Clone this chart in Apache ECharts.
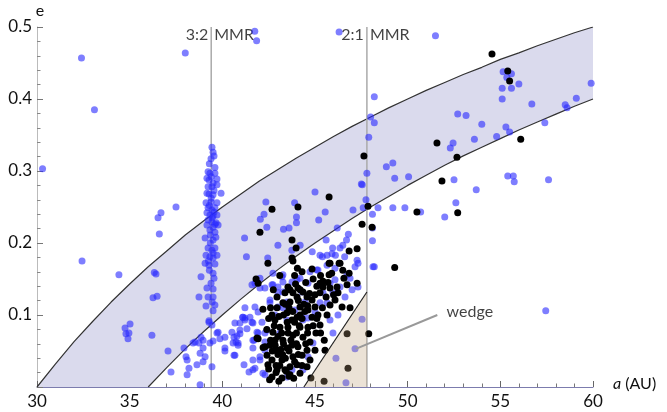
<!DOCTYPE html>
<html>
<head>
<meta charset="utf-8">
<title>a - e plane</title>
<script src="https://cdn.jsdelivr.net/npm/echarts@6/dist/echarts.min.js"></script>
<style>
  html, body { margin: 0; padding: 0; background: #fff; }
  #main { width: 667px; height: 412px; }
</style>
</head>
<body>
<div id="main"></div>
<script>
// perihelion edges of the shaded band (q = 30 AU and q = 36 AU)
const curveA = [30, 31, 32, 33, 34, 35, 36, 37, 38, 39, 40, 41, 42, 43, 44, 45, 46, 47, 48, 49, 50, 51, 52, 53, 54, 55, 56, 57, 58, 59, 60];
const upperE = [0, 0.032, 0.063, 0.091, 0.118, 0.143, 0.167, 0.189, 0.211, 0.231, 0.250, 0.268, 0.286, 0.302, 0.318, 0.333, 0.348, 0.362, 0.375, 0.388, 0.400, 0.412, 0.423, 0.434, 0.444, 0.455, 0.464, 0.474, 0.483, 0.492, 0.500];
const lowerA = [36, 37, 38, 39, 40, 41, 42, 43, 44, 45, 46, 47, 48, 49, 50, 51, 52, 53, 54, 55, 56, 57, 58, 59, 60];
const lowerE = [0, 0.027, 0.053, 0.077, 0.100, 0.122, 0.143, 0.163, 0.182, 0.200, 0.217, 0.234, 0.250, 0.265, 0.280, 0.294, 0.308, 0.321, 0.333, 0.345, 0.357, 0.368, 0.379, 0.390, 0.400];

// resonances
const mmrA = [39.4, 47.8];
const mmrNames = ['3:2', '2:1'];

// wedge triangle (a, e)
const wedgeA = [44.4, 47.8, 47.8];
const wedgeE = [0, 0, 0.132];
const wedgeText = [52.1, 0.105];
const wedgeArrow = [[51.6, 0.1], [47.2, 0.053]];

// blue objects
const bluePts = [
  [30.3, 0.303], [32.4, 0.457], [33.1, 0.385], [38.0, 0.464], [41.75, 0.494], [41.85, 0.481], [46.3, 0.493], [51.5, 0.488],
  [48.2, 0.403], [48.0, 0.375], [48.2, 0.367], [47.9, 0.347],
  [55.15, 0.438], [55.6, 0.435], [55.35, 0.43], [56.0, 0.421], [55.1, 0.415], [55.6, 0.415], [55.1, 0.40], [56.7, 0.393],
  [59.9, 0.422], [59.1, 0.401], [58.5, 0.392], [58.6, 0.388], [52.7, 0.379], [53.15, 0.377], [54.0, 0.365], [55.3, 0.361],
  [55.5, 0.354], [57.4, 0.367], [54.8, 0.348], [53.6, 0.344], [52.45, 0.339], [52.3, 0.332], [52.5, 0.288], [55.4, 0.293],
  [55.7, 0.293], [55.75, 0.285], [57.6, 0.288], [53.7, 0.274], [52.6, 0.256], [52.0, 0.236], [50.7, 0.243], [57.45, 0.106],
  [48.85, 0.306], [49.2, 0.311], [49.3, 0.290], [50.05, 0.292], [47.5, 0.282], [47.8, 0.297], [47.75, 0.26], [48.4, 0.249],
  [49.2, 0.249], [49.85, 0.249], [47.05, 0.246], [48.1, 0.24], [48.1, 0.203], [45.0, 0.271], [42.35, 0.257], [43.9, 0.256],
  [45.55, 0.243], [42.25, 0.24], [42.05, 0.233], [44.0, 0.236], [44.0, 0.228], [42.4, 0.222], [43.3, 0.219], [43.6, 0.221],
  [45.2, 0.232], [41.2, 0.207], [43.0, 0.197], [41.3, 0.181], [46.2, 0.221], [46.8, 0.212], [46.7, 0.204], [46.5, 0.197],
  [45.95, 0.193], [45.6, 0.204], [45.65, 0.183], [45.4, 0.181], [44.85, 0.188], [46.1, 0.183], [46.35, 0.193], [46.6, 0.181],
  [47.6, 0.249], [47.55, 0.281], [48.1, 0.221], [48.2, 0.167], [42.45, 0.179], [43.75, 0.19], [44.2, 0.197],
  // 3:2 column
  [39.44, 0.333], [39.5, 0.326], [39.55, 0.321], [39.39, 0.317], [39.23, 0.299], [39.33, 0.297], [39.6, 0.297], [39.17, 0.29],
  [39.71, 0.289], [39.28, 0.2875], [39.5, 0.283], [39.23, 0.278], [39.44, 0.278], [39.71, 0.281], [39.17, 0.269], [39.28, 0.268],
  [39.93, 0.269], [39.5, 0.267], [39.12, 0.256], [39.39, 0.257], [39.71, 0.256], [39.23, 0.249], [39.44, 0.246], [39.6, 0.249],
  [39.17, 0.242], [39.33, 0.239], [39.5, 0.2375], [39.71, 0.239], [39.23, 0.232], [39.44, 0.229], [39.66, 0.228], [39.17, 0.225],
  [39.5, 0.222], [39.77, 0.225], [39.33, 0.218], [39.6, 0.215], [39.07, 0.207], [39.5, 0.204], [39.23, 0.193], [39.44, 0.19],
  [39.6, 0.193], [39.12, 0.183], [39.33, 0.181], [39.5, 0.179], [39.71, 0.183], [39.07, 0.172], [39.28, 0.169], [39.6, 0.171],
  [38.85, 0.153], [39.5, 0.158], [39.55, 0.151], [39.39, 0.144], [39.17, 0.1375], [39.5, 0.136], [38.74, 0.125], [39.23, 0.125],
  [39.5, 0.125], [39.12, 0.1125], [39.6, 0.114], [39.5, 0.106], [39.28, 0.09], [39.44, 0.086], [39.71, 0.075], [39.87, 0.067],
  [38.96, 0.065], [39.5, 0.064], [38.53, 0.0625], [38.42, 0.061], [38.74, 0.061], [38.96, 0.054], [39.33, 0.061], [37.93, 0.054],
  [38.8, 0.047], [39.07, 0.042], [38.96, 0.035], [38.1, 0.0375], [38.63, 0.031], [39.44, 0.028], [38.2, 0.026], [38.1, 0.017],
  [38.8, 0.003], [37.07, 0.05], [37.23, 0.021], [38.04, 0.042], [38.85, 0.069], [39.28, 0.092], [39.77, 0.076], [40.14, 0.05],
  [39.3, 0.31], [39.6, 0.305], [39.4, 0.262], [39.55, 0.243], [39.35, 0.2], [39.65, 0.208], [39.3, 0.162], [39.45, 0.118],
  [39.4, 0.292], [39.55, 0.273], [39.3, 0.252], [39.45, 0.235], [39.6, 0.226], [39.35, 0.211], [39.5, 0.186], [39.25, 0.175],
  // left part of the band
  [36.33, 0.159], [36.42, 0.157], [36.26, 0.124], [36.48, 0.126], [34.42, 0.156], [32.43, 0.175], [34.75, 0.082], [35.02, 0.0875],
  [34.8, 0.074], [34.96, 0.075], [34.91, 0.067], [36.2, 0.072], [36.53, 0.235], [36.69, 0.242], [36.6, 0.2125], [37.5, 0.25],
  // around the cluster
  [40.68, 0.089], [40.95, 0.074], [40.74, 0.0625], [40.85, 0.058], [40.63, 0.044], [41.1, 0.097], [41.22, 0.096], [41.33, 0.081],
  [41.6, 0.09], [41.93, 0.075], [41.65, 0.065], [41.44, 0.021], [41.65, 0.0375], [41.17, 0.031], [40.63, 0.069], [40.85, 0.061],
  [41.76, 0.144], [42.03, 0.1375], [42.73, 0.142], [43.27, 0.146], [41.93, 0.104], [41.65, 0.089], [42.14, 0.09], [41.87, 0.076],
  [42.3, 0.051], [42.03, 0.0375], [41.76, 0.026], [42.3, 0.017], [41.71, 0.065], [42.57, 0.121], [43.0, 0.111], [43.27, 0.11],
  [44.19, 0.151], [45.1, 0.1625], [45.27, 0.183], [45.92, 0.185], [47.32, 0.172], [47.32, 0.139], [46.89, 0.151], [46.24, 0.1],
  [43.76, 0.146], [43.27, 0.156], [44.62, 0.144], [43.0, 0.131], [44.35, 0.093], [42.3, 0.075],
  [40.14, 0.054], [40.58, 0.061], [40.79, 0.071], [40.95, 0.079], [41.22, 0.093], [41.49, 0.097], [41.11, 0.097], [40.68, 0.044],
  [41.65, 0.054], [42.03, 0.042], [41.65, 0.024], [42.19, 0.019], [41.6, 0.142], [42.03, 0.151], [42.3, 0.1375], [42.68, 0.142],
  [42.73, 0.158], [43.0, 0.139], [43.22, 0.153], [43.27, 0.132], [43.49, 0.118], [42.57, 0.117], [42.84, 0.1], [42.41, 0.079],
  [42.3, 0.0625], [41.76, 0.111], [41.22, 0.11], [40.95, 0.089], [40.52, 0.076], [40.14, 0.069], [43.11, 0.075], [43.49, 0.093],
  [43.92, 0.107], [44.3, 0.1], [44.62, 0.096], [44.46, 0.118], [45.0, 0.104], [45.27, 0.117], [45.43, 0.131], [45.81, 0.144],
  [46.08, 0.149], [45.97, 0.131], [46.35, 0.139], [46.62, 0.125], [47.0, 0.135], [46.73, 0.156], [47.16, 0.167], [47.27, 0.176],
  [48.13, 0.167], [45.65, 0.117], [45.97, 0.075], [45.81, 0.093], [44.89, 0.061], [44.62, 0.042], [43.76, 0.024], [43.49, 0.014],
  [44.35, 0.024], [45.65, 0.169], [46.08, 0.165], [44.73, 0.16], [45.16, 0.1625], [44.03, 0.149], [44.3, 0.132],
  // inside the wedge
  [46.13, 0.04], [47.54, 0.094], [47.16, 0.053], [46.67, 0.006]
];

// black objects
const blackPts = [
  [54.55, 0.4625], [55.4, 0.439], [55.5, 0.425], [56.1, 0.344], [51.58, 0.339], [52.66, 0.319], [51.85, 0.286], [52.7, 0.242],
  [42.03, 0.215], [42.68, 0.247], [44.08, 0.25], [45.76, 0.264], [47.64, 0.321], [47.86, 0.251], [47.54, 0.226], [48.08, 0.222],
  [50.5, 0.243], [43.76, 0.204], [43.98, 0.193], [43.76, 0.179], [42.46, 0.172], [45.81, 0.172], [46.35, 0.172], [46.84, 0.189],
  [47.27, 0.192], [49.3, 0.166], [47.9, 0.074], [41.82, 0.15], [41.93, 0.144], [41.93, 0.067],
  // in the wedge
  [46.73, 0.074], [46.78, 0.026], [45.49, 0.008], [44.78, 0.0125],
  // main cluster
  [43.81, 0.175], [44.84, 0.164], [45.76, 0.172], [46.3, 0.172], [46.84, 0.158], [47.27, 0.144], [46.56, 0.151], [46.73, 0.142],
  [46.24, 0.131], [46.08, 0.121], [45.81, 0.114], [46.46, 0.111], [46.89, 0.11], [45.65, 0.1], [45.27, 0.086], [45.05, 0.075],
  [45.16, 0.1], [43.54, 0.139], [44.08, 0.1375], [43.81, 0.131], [43.38, 0.131], [44.35, 0.132], [42.19, 0.108], [42.84, 0.093],
  [42.68, 0.1], [41.87, 0.068], [42.41, 0.044], [42.46, 0.031], [42.68, 0.014], [43.22, 0.0125], [43.65, 0.017], [44.19, 0.019],
  [44.57, 0.028], [44.73, 0.0375], [45.0, 0.051], [44.03, 0.125], [44.19, 0.111], [44.03, 0.097], [43.54, 0.083], [43.27, 0.065],
  [42.95, 0.051], [43.22, 0.0375], [43.65, 0.028], [43.81, 0.042], [44.08, 0.056], [44.35, 0.069], [44.62, 0.083], [44.84, 0.097],
  [45.0, 0.111], [44.62, 0.107], [45.27, 0.131], [45.43, 0.139], [45.81, 0.1375], [45.76, 0.156], [45.43, 0.147], [46.19, 0.139],
  [45.27, 0.144], [45.0, 0.128], [44.57, 0.125], [44.84, 0.121], [43.65, 0.118], [43.27, 0.117], [42.95, 0.11], [44.19, 0.1],
  [43.76, 0.093], [43.49, 0.103], [43.11, 0.083], [42.73, 0.076], [42.57, 0.058], [42.3, 0.056], [42.84, 0.065], [43.49, 0.054],
  [43.81, 0.072], [44.19, 0.083], [42.68, 0.0375], [42.95, 0.024], [43.38, 0.024], [44.03, 0.031], [44.3, 0.044], [44.57, 0.051],
  [44.73, 0.0625], [45.54, 0.051],
  [42.9, 0.02], [43.1, 0.03], [43.4, 0.04], [43.0, 0.045], [43.6, 0.05], [43.9, 0.035], [44.1, 0.045], [43.3, 0.06],
  [43.7, 0.065], [44.0, 0.075], [43.2, 0.075], [43.5, 0.09], [43.9, 0.09], [44.3, 0.095], [43.3, 0.1], [43.8, 0.105],
  [44.4, 0.115], [43.0, 0.07], [42.8, 0.085], [42.6, 0.065], [42.7, 0.05], [42.9, 0.03], [43.6, 0.015], [44.3, 0.03],
  [44.5, 0.06], [44.6, 0.075], [44.0, 0.06], [43.4, 0.115], [44.1, 0.12], [44.7, 0.13], [44.5, 0.145], [44.9, 0.15],
  [45.3, 0.155], [45.6, 0.125], [45.1, 0.14], [43.9, 0.155], [44.3, 0.16], [45.9, 0.158], [46.5, 0.162], [45.4, 0.11],
  [44.9, 0.085], [42.5, 0.025], [42.4, 0.08], [42.2, 0.055], [43.55, 0.075], [43.25, 0.045], [44.15, 0.085], [44.45, 0.105],
  [42.95, 0.125], [43.65, 0.135], [42.75, 0.135], [43.1, 0.155], [44.05, 0.165], [45.1, 0.095], [45.3, 0.075], [45.5, 0.065],
  [42.55, 0.01], [43.05, 0.008], [43.45, 0.022], [43.85, 0.012], [42.85, 0.058], [43.15, 0.052], [43.75, 0.058], [42.5, 0.095],
  [43.05, 0.098], [43.6, 0.11], [44.2, 0.135], [44.6, 0.113], [43.95, 0.143], [45.7, 0.145], [46.0, 0.128], [42.6, 0.11]
];

const myChart = echarts.init(document.getElementById('main'));

const font = 'Lato, "DejaVu Sans", sans-serif';

const option = {
  animation: false,
  textStyle: { fontFamily: font },
  grid: { left: 37, right: 74, top: 27, bottom: 25 },
  xAxis: {
    type: 'value', min: 30, max: 60, interval: 5,
    name: '{i|a} (AU)', nameLocation: 'end', nameGap: 20,
    nameTextStyle: {
      fontSize: 16, color: '#111', fontFamily: font, padding: [0, 0, 6, 0],
      rich: { i: { fontStyle: 'italic', fontSize: 16, fontFamily: font, color: '#111' } }
    },
    axisLine: { show: true, lineStyle: { color: '#7c7cae', width: 1 } },
    axisTick: { show: true, inside: true, length: 6, lineStyle: { color: '#666' } },
    minorTick: { show: true, splitNumber: 5, length: 3.5, lineStyle: { color: '#777' } },
    axisLabel: { fontSize: 17, color: '#111', margin: 6, fontFamily: font },
    splitLine: { show: false }
  },
  yAxis: {
    type: 'value', min: 0, max: 0.5, interval: 0.1,
    name: 'e', nameLocation: 'end', nameGap: 6,
    nameTextStyle: { fontSize: 16, color: '#111', fontFamily: font, padding: [0, 0, 0, 6] },
    axisLine: { show: true, lineStyle: { color: '#bbb', width: 1 } },
    axisTick: { show: true, inside: true, length: 6, lineStyle: { color: '#777' } },
    minorTick: { show: true, splitNumber: 5, length: 3.5, lineStyle: { color: '#888' } },
    axisLabel: {
      fontSize: 17, color: '#111', margin: 5, fontFamily: font,
      formatter: v => (v === 0 ? '' : v.toFixed(1))
    },
    splitLine: { show: false }
  },
  series: [
    {
      // shaded band between the two perihelion curves
      type: 'custom', silent: true, z: 1,
      data: [[30, 0]],
      renderItem: function (params, api) {
        const pts = [];
        curveA.forEach((a, i) => pts.push(api.coord([a, upperE[i]])));
        for (let i = lowerA.length - 1; i >= 0; i--) pts.push(api.coord([lowerA[i], lowerE[i]]));
        return { type: 'polygon', shape: { points: pts }, style: { fill: '#dadaed' } };
      }
    },
    {
      type: 'line', z: 2, silent: true, symbol: 'none',
      data: curveA.map((a, i) => [a, upperE[i]]),
      lineStyle: { color: '#333', width: 1.2 }
    },
    {
      type: 'line', z: 2, silent: true, symbol: 'none',
      data: lowerA.map((a, i) => [a, lowerE[i]]),
      lineStyle: { color: '#333', width: 1.2 }
    },
    ...mmrA.map(a => ({
      type: 'line', z: 2, silent: true, symbol: 'none',
      data: [[a, 0], [a, 0.5]],
      lineStyle: { color: '#aaa', width: 1.5 }
    })),
    {
      type: 'scatter', z: 3, symbolSize: 0, silent: true,
      data: mmrA.map((a, i) => ({ value: [a, 0.489], name: mmrNames[i] })),
      label: { show: true, position: 'left', distance: 3, formatter: p => p.name, fontSize: 16, color: '#111', fontFamily: font }
    },
    {
      type: 'scatter', z: 3, symbolSize: 0, silent: true,
      data: mmrA.map(a => [a, 0.489]),
      label: { show: true, position: 'right', distance: 3, formatter: 'MMR', fontSize: 16, color: '#111', fontFamily: font }
    },
    {
      type: 'scatter', z: 4, symbolSize: 7,
      data: bluePts,
      itemStyle: { color: 'rgba(40,40,255,0.6)', opacity: 1 }
    },
    {
      type: 'scatter', z: 5, symbolSize: 7,
      data: blackPts,
      itemStyle: { color: '#000', opacity: 1 }
    },
    {
      // wedge
      type: 'custom', silent: true, z: 6,
      data: [[wedgeA[0], 0]],
      renderItem: function (params, api) {
        const pts = wedgeA.map((a, i) => api.coord([a, wedgeE[i]]));
        return {
          type: 'group',
          children: [
            { type: 'polygon', shape: { points: pts }, style: { fill: 'rgba(190,158,118,0.3)' } },
            { type: 'line', shape: { x1: pts[0][0], y1: pts[0][1], x2: pts[2][0], y2: pts[2][1] }, style: { stroke: '#222', lineWidth: 1.2 } }
          ]
        };
      }
    },
    {
      type: 'line', z: 7, silent: true, symbol: 'none',
      data: wedgeArrow,
      lineStyle: { color: '#999', width: 2 }
    },
    {
      type: 'scatter', z: 7, symbolSize: 0, silent: true,
      data: [wedgeText],
      label: { show: true, position: 'right', distance: 0, formatter: 'wedge', fontSize: 16, color: '#111', fontFamily: font }
    }
  ]
};

myChart.setOption(option);
</script>
</body>
</html>
